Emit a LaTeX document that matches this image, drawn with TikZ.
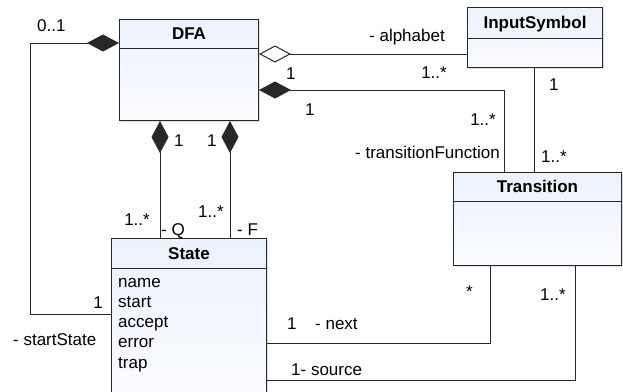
\documentclass[tikz,border=0pt]{standalone}
\usepackage{fontspec}
\setmainfont{Liberation Sans}
\usetikzlibrary{positioning,arrows.meta,shadows}

\definecolor{clsTop}{RGB}{236,242,252}
\definecolor{clsBot}{RGB}{250,252,255}
\definecolor{umlLine}{RGB}{40,40,40}

\begin{document}
\begin{tikzpicture}[
  x=1pt, y=-1pt,
  font=\fontsize{17}{20}\selectfont,
  cls/.style={rectangle, draw=umlLine, line width=1pt,
              top color=clsTop, bottom color=clsBot,
              inner sep=0pt, anchor=north west,
              drop shadow={shadow xshift=1.5pt, shadow yshift=-1.5pt, opacity=0.25}},
  clsname/.style={font=\fontsize{17}{20}\selectfont\bfseries,
                  inner sep=0pt, text height=12.2pt, text depth=0pt},
  attr/.style={inner sep=0pt, anchor=base west},
  lbl/.style={inner sep=0pt},
  assoc/.style={draw=umlLine, line width=1pt},
  comp/.style={assoc, {Diamond[length=32pt,width=17pt]}-},
  aggr/.style={assoc, {Diamond[open,length=32pt,width=17pt]}-},
]
\useasboundingbox (0,0) rectangle (623,391);

% Class boxes
\node[cls, minimum width=139pt, minimum height=101pt] (dfa)   at (119,19)  {};
\node[cls, minimum width=135pt, minimum height=60pt]  (sym)   at (467,7)   {};
\node[cls, minimum width=168pt, minimum height=93pt]  (trans) at (453,172) {};
\node[cls, minimum width=155pt, minimum height=156pt] (state) at (111,238) {};

% Class names and compartment lines
\node[clsname] (dfaName)   at ([yshift=-14.5pt]dfa.north)   {DFA};
\node[clsname] (symName)   at ([yshift=-15.5pt]sym.north)   {InputSymbol};
\node[clsname] (transName) at ([yshift=-14.5pt]trans.north) {Transition};
\node[clsname] (stateName) at ([yshift=-15pt]state.north)   {State};
\draw[assoc] ([yshift=-29pt]dfa.north west)   -- ([yshift=-29pt]dfa.north east);
\draw[assoc] ([yshift=-31pt]sym.north west)   -- ([yshift=-31pt]sym.north east);
\draw[assoc] ([yshift=-29pt]trans.north west) -- ([yshift=-29pt]trans.north east);
\draw[assoc] ([yshift=-30pt]state.north west) -- ([yshift=-30pt]state.north east);

% State attributes
\foreach \a [count=\i] in {name,start,accept,error,trap}
  \node[attr] (attr\i) at ([xshift=7pt, yshift={-(28.7+20.3*\i)*1pt}]state.north west) {\a};

% Connector end points
\coordinate (startBend) at (30,314);
\coordinate (qTop)      at ([xshift=41pt]dfa.south west);
\coordinate (fTop)      at ([xshift=111pt]dfa.south west);
\coordinate (symFoot)   at ([xshift=67pt]sym.south west);
\coordinate (alphaEnd)  at ([yshift=-35pt]dfa.north east);

% Associations
\draw[comp] ([yshift=-24pt]dfa.north west) -| (startBend) -- (startBend -| state.west);
\draw[aggr] (alphaEnd) -- (alphaEnd -| sym.west);
\draw[comp] ([yshift=-71pt]dfa.north east) -| ([xshift=51pt]trans.north west);
\draw[assoc] (symFoot) -- (symFoot |- trans.north);
\draw[comp] (qTop) -- (qTop |- state.north);
\draw[comp] (fTop) -- (fTop |- state.north);
\draw[assoc] ([yshift=-105pt]state.north east) -| ([xshift=37pt]trans.south west);
\draw[assoc] ([yshift=-142pt]state.north east) -| ([xshift=122pt]trans.south west);

% Multiplicities and role names
\node[lbl, anchor=base west] (mStartDfa)   at (37,31)   {0..1};
\node[lbl, anchor=base east] (mStartState) at (103,308) {1};
\node[lbl, anchor=base west] (rStart)      at (13,345)  {- startState};
\node[lbl, anchor=base east] (rAlpha)      at (445,41)  {- alphabet};
\node[lbl, anchor=base west] (mAlphaDfa)   at (286,79)  {1};
\node[lbl, anchor=base east] (mAlphaSym)   at (447,78)  {1..*};
\node[lbl, anchor=base west] (mTfDfa)      at (305,115) {1};
\node[lbl, anchor=base east] (mTfTrans)    at (496,125) {1..*};
\node[lbl, anchor=base east] (rTf)         at (500,158) {- transitionFunction};
\node[lbl, anchor=base west] (mSymOne)     at (549,90)  {1};
\node[lbl, anchor=base west] (mSymMany)    at (541,162) {1..*};
\node[lbl, anchor=base west] (mQDfa)       at (174,146) {1};
\node[lbl, anchor=base west] (mFDfa)       at (207,146) {1};
\node[lbl, anchor=base east] (mQState)     at (150,225) {1..*};
\node[lbl, anchor=base west] (rQ)          at (161,235) {- Q};
\node[lbl, anchor=base west] (mFState)     at (198,217) {1..*};
\node[lbl, anchor=base west] (rF)          at (237,235) {- F};
\node[lbl, anchor=base west] (mNextState)  at (287,329) {1};
\node[lbl, anchor=base west] (rNext)       at (315,329) {- next};
\node[lbl, anchor=base west] (mNextTrans)  at (466,297) {*};
\node[lbl, anchor=base west] (mSrcTrans)   at (540,300) {1..*};
\node[lbl, anchor=base west] (rSrc)        at (291,375) {1- source};

\end{tikzpicture}
\end{document}
